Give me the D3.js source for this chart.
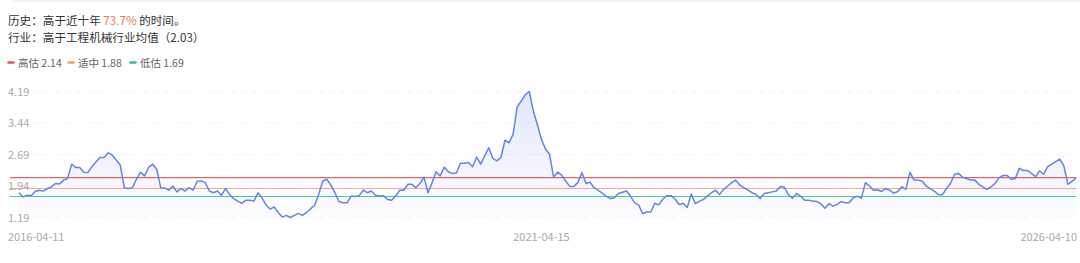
<!DOCTYPE html>
<html>
<head>
<meta charset="utf-8">
<script src="https://cdn.jsdelivr.net/npm/d3@7"></script>
<style>
  body { margin: 0; background: #fff; font-family: "Noto Sans CJK SC", "Noto Sans", sans-serif; }
  svg { display: block; }
</style>
</head>
<body>
<script>
// PE band values, roughly one point every two weeks, 2016-04-11 .. 2026-04-10
const values = [
  1.78,1.68,1.72,1.71,1.81,1.84,1.82,1.88,1.92,2.00,
  1.99,2.08,2.12,2.46,2.38,2.38,2.27,2.26,2.40,2.51,
  2.62,2.62,2.73,2.68,2.56,2.44,1.90,1.88,1.90,2.10,
  2.27,2.18,2.38,2.46,2.34,1.90,1.89,1.84,1.94,1.80,
  1.88,1.82,1.90,1.84,2.06,2.06,2.02,1.82,1.78,1.82,
  1.72,1.88,1.74,1.64,1.58,1.53,1.60,1.60,1.58,1.78,
  1.66,1.49,1.39,1.44,1.31,1.20,1.24,1.19,1.24,1.29,
  1.24,1.31,1.40,1.48,1.74,2.06,2.10,1.96,1.78,1.57,
  1.54,1.54,1.70,1.69,1.71,1.84,1.78,1.82,1.72,1.70,
  1.71,1.62,1.60,1.70,1.84,1.84,1.98,1.98,1.90,2.00,
  2.15,1.78,2.02,2.28,2.18,2.39,2.28,2.24,2.25,2.48,
  2.48,2.50,2.40,2.63,2.46,2.66,2.85,2.60,2.54,2.62,
  3.03,2.97,3.17,3.82,3.96,4.11,4.19,3.73,3.40,3.05,
  2.82,2.70,2.15,2.27,2.20,2.06,1.93,1.93,2.02,2.26,
  2.00,2.03,1.90,1.84,1.77,1.70,1.64,1.66,1.76,1.79,
  1.82,1.70,1.54,1.49,1.28,1.32,1.32,1.53,1.49,1.63,
  1.71,1.71,1.63,1.50,1.53,1.43,1.75,1.52,1.58,1.62,
  1.70,1.78,1.84,1.74,1.86,1.94,2.02,2.08,1.96,1.90,
  1.84,1.78,1.74,1.64,1.76,1.78,1.80,1.82,1.93,1.91,
  1.73,1.65,1.76,1.70,1.60,1.60,1.58,1.57,1.52,1.41,
  1.52,1.46,1.50,1.57,1.54,1.54,1.66,1.70,1.65,2.02,
  1.94,1.84,1.85,1.81,1.88,1.84,1.77,1.81,1.92,1.86,
  2.27,2.08,2.08,2.06,1.94,1.88,1.82,1.74,1.73,1.88,
  2.00,2.22,2.24,2.15,2.12,2.08,2.08,1.98,1.92,1.86,
  1.92,2.00,2.14,2.19,2.19,2.10,2.12,2.36,2.31,2.31,
  2.24,2.16,2.30,2.22,2.40,2.46,2.52,2.58,2.42,1.98,
  2.05,2.13
];

const yTicks = [1.19, 1.94, 2.69, 3.44, 4.19];
const xTickLabels = ["2016-04-11", "2021-04-15", "2026-04-10"];
const xTickIndex = [0, 129, values.length - 1];

const bandNames = ["高估", "适中", "低估"];
const bandValues = [2.14, 1.88, 1.69];
const bandColors = ["#e8505e", "#f5a25a", "#2fbf94"];
const bandLineColors = ["#e8606a", "#f6a593", "#4cc6a8"];

const width = 1080;
const height = 263;
const svg = d3.select("body").append("svg").attr("width", width).attr("height", height);

// faint border left over from the card above
svg.append("rect").attr("x", 12).attr("y", 0).attr("width", width - 12).attr("height", 2).attr("fill", "#f2f3f7");

// header text
const line1 = svg.append("text").attr("x", 8).attr("y", 25).attr("font-size", 11.6).attr("fill", "#333");
line1.append("tspan").text("历史：高于近十年 ");
line1.append("tspan").attr("fill", "#f27a52").text("73.7%");
line1.append("tspan").text(" 的时间。");

svg.append("text").attr("x", 8).attr("y", 42).attr("font-size", 11.6).attr("fill", "#333")
  .text("行业：高于工程机械行业均值（2.03）");

// legend
const legendX = [8, 68, 130];
const legend = svg.selectAll("g.legend").data(bandNames).enter().append("g")
  .attr("class", "legend")
  .attr("transform", (d, i) => "translate(" + legendX[i] + ",62.5)");
legend.append("line").attr("x1", 0.5).attr("x2", 5.5).attr("y1", 0).attr("y2", 0)
  .attr("stroke", (d, i) => bandColors[i]).attr("stroke-width", 2.5).attr("stroke-linecap", "round");
legend.append("text").attr("x", 10).attr("y", 4).attr("font-size", 10.5).attr("fill", "#666")
  .text((d, i) => d + " " + bandValues[i]);

// scales
const xScale = d3.scaleLinear().domain([0, values.length - 1]).range([19, 1076]);
const yScale = d3.scaleLinear().domain([1.19, 4.19]).range([217.5, 91.5]);

// grid
svg.selectAll("line.grid").data(yTicks).enter().append("line")
  .attr("class", "grid")
  .attr("x1", 32).attr("x2", 1076)
  .attr("y1", d => yScale(d)).attr("y2", d => yScale(d))
  .attr("stroke", "#f3f4f7").attr("stroke-dasharray", "6,5");

svg.selectAll("text.ytick").data(yTicks).enter().append("text")
  .attr("class", "ytick")
  .attr("x", 8).attr("y", d => yScale(d) + 4)
  .attr("font-size", 11).attr("fill", "#aaa")
  .text(d => d.toFixed(2));

// area gradient
const grad = svg.append("defs").append("linearGradient").attr("id", "fill")
  .attr("x1", 0).attr("y1", 0).attr("x2", 0).attr("y2", 1);
grad.append("stop").attr("offset", "0%").attr("stop-color", "#6b8ce8").attr("stop-opacity", 0.2);
grad.append("stop").attr("offset", "100%").attr("stop-color", "#6b8ce8").attr("stop-opacity", 0.02);

const area = d3.area()
  .x((d, i) => xScale(i))
  .y0(yScale(1.19))
  .y1(d => yScale(d));

svg.append("path").datum(values).attr("d", area).attr("fill", "url(#fill)");

// valuation bands
svg.selectAll("line.band").data(bandValues).enter().append("line")
  .attr("class", "band")
  .attr("x1", 10).attr("x2", 1076)
  .attr("y1", d => yScale(d)).attr("y2", d => yScale(d))
  .attr("stroke", (d, i) => bandLineColors[i]).attr("stroke-width", 1.2);

const line = d3.line()
  .x((d, i) => xScale(i))
  .y(d => yScale(d));

svg.append("path").datum(values).attr("d", line)
  .attr("fill", "none").attr("stroke", "#6286e6").attr("stroke-width", 1.5)
  .attr("stroke-linejoin", "round");

// x labels
const anchors = ["start", "middle", "end"];
const shift = [-11, 0, 1];
svg.selectAll("text.xtick").data(xTickLabels).enter().append("text")
  .attr("class", "xtick")
  .attr("x", (d, i) => xScale(xTickIndex[i]) + shift[i])
  .attr("y", 241)
  .attr("text-anchor", (d, i) => anchors[i])
  .attr("font-size", 11).attr("fill", "#aaa")
  .text(d => d);
</script>
</body>
</html>
